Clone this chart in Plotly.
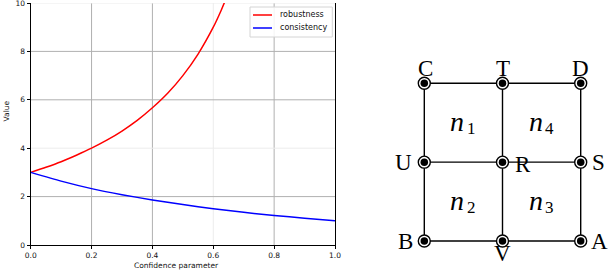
import plotly.graph_objects as go

# ---------------- data ----------------
robust_x = [0.0, 0.05, 0.1, 0.15, 0.2, 0.25, 0.3, 0.35, 0.4, 0.45, 0.5, 0.55, 0.6, 0.625, 0.65]
robust_y = [3.00, 3.21, 3.44, 3.71, 4.00, 4.33, 4.71, 5.15, 5.67, 6.27, 7.00, 7.89, 9.00, 9.67, 10.43]

consist_x = [0.0, 0.1, 0.2, 0.3, 0.4, 0.5, 0.6, 0.7, 0.8, 0.9, 1.0]
consist_y = [3.00, 2.64, 2.33, 2.08, 1.86, 1.67, 1.50, 1.35, 1.22, 1.11, 1.00]

series_names = ["robustness", "consistency"]
series_colors = ["#ff0000", "#0000ff"]

x_ticks = [0.0, 0.2, 0.4, 0.6, 0.8, 1.0]
x_ticktext = ["0.0", "0.2", "0.4", "0.6", "0.8", "1.0"]
y_ticks = [0, 2, 4, 6, 8, 10]
y_ticktext = ["0", "2", "4", "6", "8", "10"]

# diagram: node names and grid positions (column, row)
node_names = ["C", "T", "D", "U", "R", "S", "B", "V", "A"]
node_cols = [0, 1, 2, 0, 1, 2, 0, 1, 2]
node_rows = [2, 2, 2, 1, 1, 1, 0, 0, 0]
cell_letters = ["n", "n", "n", "n"]
cell_subs = ["1", "4", "2", "3"]
cell_cols = [0.5, 1.5, 0.5, 1.5]
cell_rows = [1.5, 1.5, 0.5, 0.5]

# ---------------- layout constants ----------------
W, H = 610, 274
PLOT_L, PLOT_R, PLOT_T, PLOT_B = 30.7, 335.0, 3.0, 245.0
DIAG_OX, DIAG_OY = 424.3, 241.0   # pixel of grid (0,0)
DIAG_SX, DIAG_SY = 78.2, 78.85    # pixels per grid unit

STRONG = "#b0b0b0"
FAINT = "#ececec"
faint_x = {0.6}
faint_y = {4, 10}
TICKFONT = dict(family="DejaVu Sans", size=7.5, color="#111111")
LEGFONT = dict(family="DejaVu Sans", size=8, color="#111111")


def px(xp):
    return xp / W


def py(yp):
    return 1 - yp / H


fig = go.Figure()

# ---------------- left chart ----------------
for xs, ys, name, col in zip([robust_x, consist_x], [robust_y, consist_y], series_names, series_colors):
    fig.add_trace(go.Scatter(x=xs, y=ys, mode="lines", name=name,
                             line=dict(color=col, width=1.5, shape="spline", smoothing=0.6),
                             xaxis="x", yaxis="y", showlegend=False))

shapes = []
for v in x_ticks[1:-1]:
    shapes.append(dict(type="line", xref="x", yref="y domain", x0=v, x1=v, y0=0, y1=1,
                       line=dict(color=FAINT if v in faint_x else STRONG, width=1), layer="below"))
for v in y_ticks[1:]:
    shapes.append(dict(type="line", xref="x domain", yref="y", x0=0, x1=1, y0=v, y1=v,
                       line=dict(color=FAINT if v in faint_y else STRONG, width=1), layer="below"))

annotations = []

# legend box (drawn like the matplotlib legend)
LEG_L, LEG_R, LEG_T, LEG_B = 250.0, 332.3, 7.0, 37.0
LEG_ROW0, LEG_ROW_STEP = 15.0, 13.0
shapes.append(dict(type="rect", xref="paper", yref="paper",
                   x0=px(LEG_L), x1=px(LEG_R), y0=py(LEG_B), y1=py(LEG_T),
                   fillcolor="rgba(255,255,255,0.85)", line=dict(color="#d4d4d4", width=1)))
for i, (name, col) in enumerate(zip(series_names, series_colors)):
    yrow = LEG_ROW0 + i * LEG_ROW_STEP
    shapes.append(dict(type="line", xref="paper", yref="paper",
                       x0=px(253), x1=px(272), y0=py(yrow), y1=py(yrow),
                       line=dict(color=col, width=1.5)))
    annotations.append(dict(x=px(277.5), y=py(yrow), xref="paper", yref="paper", text=name,
                            showarrow=False, xanchor="left", yanchor="middle", font=LEGFONT))

# ---------------- diagram ----------------
ex, ey = [], []
for r in (0, 1, 2):
    ex += [0, 2, None]
    ey += [r, r, None]
for c in (0, 1, 2):
    ex += [c, c, None]
    ey += [0, 2, None]
fig.add_trace(go.Scatter(x=ex, y=ey, mode="lines", line=dict(color="black", width=1.4),
                         xaxis="x2", yaxis="y2", showlegend=False, hoverinfo="skip"))
fig.add_trace(go.Scatter(x=node_cols, y=node_rows, mode="markers",
                         marker=dict(size=12, color="white", line=dict(color="black", width=1.4)),
                         xaxis="x2", yaxis="y2", showlegend=False, hoverinfo="skip"))
fig.add_trace(go.Scatter(x=node_cols, y=node_rows, mode="markers",
                         marker=dict(size=7.5, color="black", line=dict(width=0)),
                         xaxis="x2", yaxis="y2", showlegend=False, hoverinfo="skip"))

label_shift = {"C": (1, 15), "T": (0, 15), "D": (0, 15),
               "U": (-21, 0), "R": (20, -2), "S": (17.5, 0),
               "B": (-19, 0), "V": (0, -12), "A": (19, 0)}
SERIF = dict(family="Liberation Serif", size=23, color="black")
for n, c, r in zip(node_names, node_cols, node_rows):
    dx, dy = label_shift[n]
    annotations.append(dict(x=c, y=r, xref="x2", yref="y2", text=n, showarrow=False,
                            xshift=dx, yshift=dy, font=SERIF,
                            xanchor="center", yanchor="middle"))
NFONT = dict(family="Liberation Serif", size=28, color="black", style="italic")
SUBFONT = dict(family="Liberation Serif", size=17, color="black")
for letter, sub, c, r in zip(cell_letters, cell_subs, cell_cols, cell_rows):
    annotations.append(dict(x=c, y=r, xref="x2", yref="y2", text=letter, showarrow=False,
                            xshift=-6, yshift=1, font=NFONT,
                            xanchor="center", yanchor="middle"))
    annotations.append(dict(x=c, y=r, xref="x2", yref="y2", text=sub, showarrow=False,
                            xshift=8, yshift=-6, font=SUBFONT,
                            xanchor="center", yanchor="middle"))

# axis titles
annotations.append(dict(x=px(176), y=py(265.5), xref="paper", yref="paper",
                        text="Confidence parameter", showarrow=False,
                        font=TICKFONT, xanchor="center", yanchor="middle"))
annotations.append(dict(x=px(5.5), y=py(111), xref="paper", yref="paper",
                        text="Value", textangle=-90, showarrow=False,
                        font=TICKFONT, xanchor="center", yanchor="middle"))

axis_common = dict(showline=True, linecolor="black", linewidth=1.2, ticks="outside",
                   ticklen=3, tickwidth=1, tickcolor="black", showgrid=False, zeroline=False,
                   tickfont=TICKFONT, automargin=False, ticklabeloverflow="allow")

fig.update_layout(
    width=W, height=H, margin=dict(l=0, r=0, t=0, b=0, pad=0),
    paper_bgcolor="white", plot_bgcolor="rgba(0,0,0,0)",
    xaxis=dict(domain=[px(PLOT_L), px(PLOT_R)], range=[0, 1], anchor="y",
               tickvals=x_ticks, ticktext=x_ticktext, **axis_common),
    yaxis=dict(domain=[py(PLOT_B), py(PLOT_T)], range=[0, 10], anchor="x",
               tickvals=y_ticks, ticktext=y_ticktext, mirror=True, **axis_common),
    xaxis2=dict(domain=[0, 1], range=[-DIAG_OX / DIAG_SX, (W - DIAG_OX) / DIAG_SX],
                visible=False, anchor="y2", fixedrange=True, automargin=False),
    yaxis2=dict(domain=[0, 1], range=[(DIAG_OY - H) / DIAG_SY, DIAG_OY / DIAG_SY],
                visible=False, anchor="x2", fixedrange=True, automargin=False),
    shapes=shapes, annotations=annotations, showlegend=False,
)

fig.write_html("out.html", config={"displayModeBar": False},
               post_script="document.body.style.margin='0';document.body.style.overflow='hidden';")
